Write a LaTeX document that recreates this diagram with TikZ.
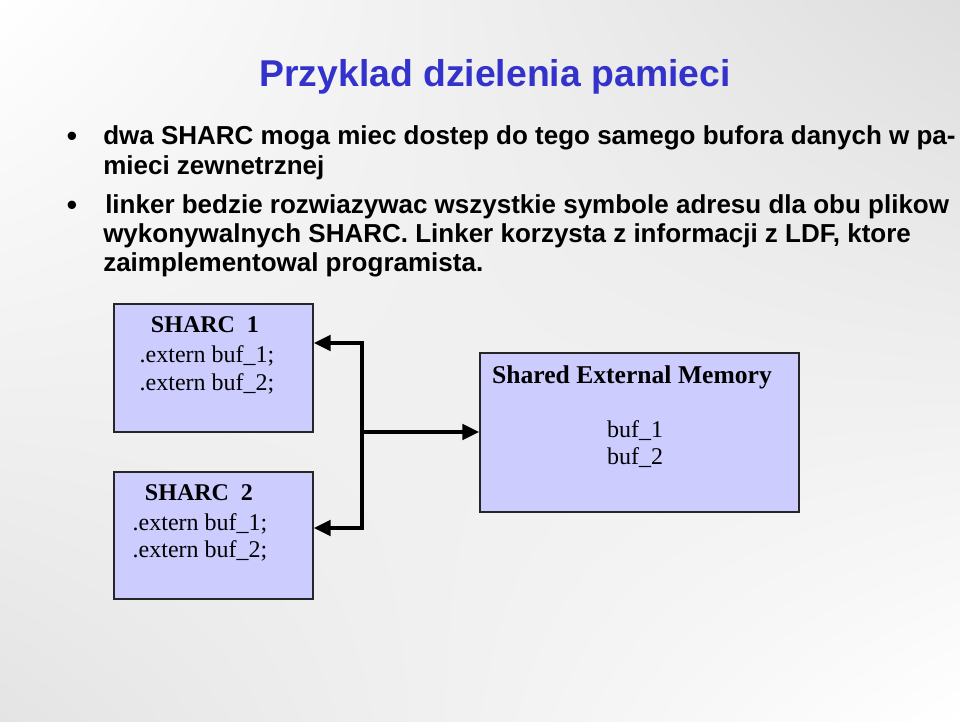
\documentclass[tikz,border=0pt]{standalone}
\usepackage{fontspec}
\setmainfont{Liberation Serif}
\newfontfamily\arialf{Liberation Sans}
\usetikzlibrary{arrows.meta,shadings}
\definecolor{titleblue}{RGB}{51,51,204}
\definecolor{boxfill}{RGB}{204,204,255}
\definecolor{bgA}{RGB}{222,222,222}
\definecolor{bgB}{RGB}{228,228,228}
\begin{document}
\begin{tikzpicture}[x=0.75pt,y=-0.75pt,
  >={Triangle[length=12.75pt,width=11.5pt]},
  titletext/.style={font=\arialf\bfseries\fontsize{28}{34}\selectfont, text=titleblue, inner sep=0pt, anchor=base},
  bodytext/.style={font=\arialf\bfseries\fontsize{19.5}{23}\selectfont, inner sep=0pt, anchor=base west},
  bullettext/.style={font=\arialf\fontsize{23}{26}\selectfont, inner sep=0pt, anchor=base},
  membox/.style={draw=black!85, line width=1.1pt, fill=boxfill, inner sep=0pt},
  boxhead/.style={font=\bfseries\fontsize{18}{22}\selectfont, inner sep=0pt, anchor=base},
  boxline/.style={font=\fontsize{18}{22}\selectfont, inner sep=0pt, anchor=base},
  conn/.style={line width=3.2pt, line join=miter},
]
\useasboundingbox (0,0) rectangle (960,721);
\shade[upper left=white, upper right=bgA, lower left=bgB, lower right=white] (0,0) rectangle (960,721);

\node[titletext] (title) at (495,86) {Przyklad dzielenia pamieci};

\node[bullettext] (b1) at (72,146) {•};
\node[bodytext] (l1) at (103,144) {dwa SHARC moga miec dostep do tego samego bufora danych w pa-};
\node[bodytext] (l2) at (103,174) {mieci zewnetrznej};
\node[bullettext] (b2) at (72,215) {•};
\node[bodytext] (l3) at (105,213) {linker bedzie rozwiazywac wszystkie symbole adresu dla obu plikow};
\node[bodytext] (l4) at (103,242) {wykonywalnych SHARC. Linker korzysta z informacji z LDF, ktore};
\node[bodytext] (l5) at (103,271) {zaimplementowal programista.};

\node[membox, minimum width=149.25pt, minimum height=96pt] (s1) at (213.5,368) {};
\node[membox, minimum width=149.25pt, minimum height=95.25pt] (s2) at (213.5,535.5) {};
\node[membox, minimum width=239.25pt, minimum height=119.25pt] (mem) at (639.5,432.5) {};

\node[boxhead] (s1h) at (205,332) {SHARC\ \ 1};
\node[boxline] (s1a) at (207,362) {.extern buf\_1;};
\node[boxline] (s1b) at (207,390) {.extern buf\_2;};

\node[boxhead] (s2h) at (199,500) {SHARC\ \ 2};
\node[boxline] (s2a) at (200,530) {.extern buf\_1;};
\node[boxline] (s2b) at (200,557) {.extern buf\_2;};

\node[boxhead, font=\bfseries\fontsize{19.2}{22}\selectfont] (memh) at (632,383) {Shared External Memory};
\node[boxline] (mema) at (635,437) {buf\_1};
\node[boxline] (memb) at (635,464) {buf\_2};

\coordinate (jt) at (362,343);
\coordinate (jm) at (362,432);
\coordinate (jb) at (362,528);
\draw[conn, <->] (jt -| s1.east) -- (jt) -- (jb) -- (jb -| s2.east);
\draw[conn, ->] (jm) -- (jm -| mem.west);
\end{tikzpicture}
\end{document}
